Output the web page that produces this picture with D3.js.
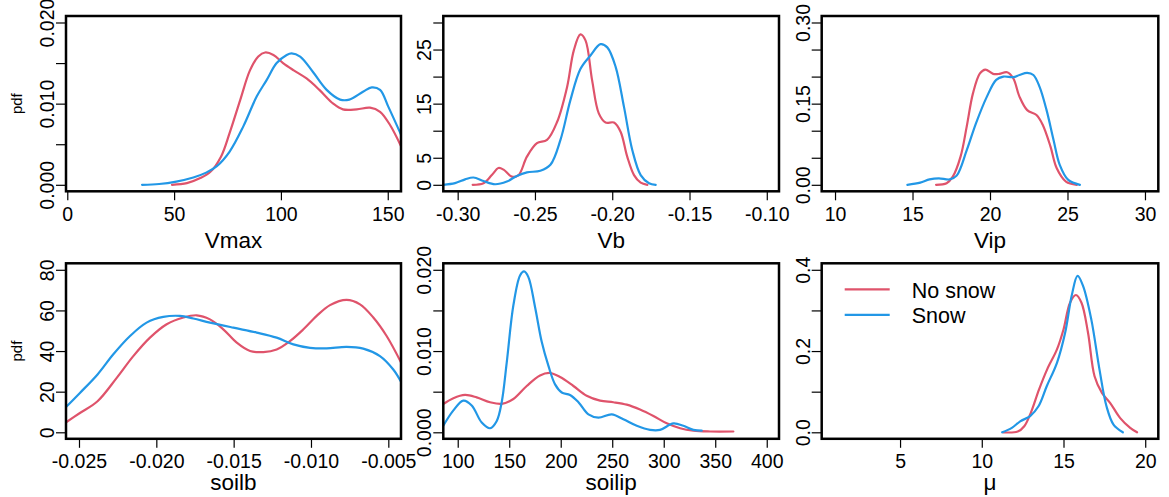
<!DOCTYPE html>
<html>
<head>
<meta charset="utf-8">
<script src="https://cdn.jsdelivr.net/npm/d3@7"></script>
<style>
  html, body { margin: 0; padding: 0; background: #fff; }
  svg { display: block; font-family: Arial, "Liberation Sans", Helvetica, sans-serif; }
</style>
</head>
<body>
<svg id="chart" width="1169" height="497"></svg>
<script>
// ---------- Data (x, density) ----------
const seriesNames = ["No snow", "Snow"];
const seriesColors = ["#DF536B", "#2297E6"];

const vmaxNoSnow = [[49,0],[56,0.0002],[62,0.0008],[67,0.0016],[72,0.0035],[76,0.0064],[81,0.0105],[85.5,0.0141],[89.4,0.0158],[92.6,0.0163],[96.5,0.0160],[101,0.0150],[106,0.0141],[112,0.0131],[118,0.0117],[124.5,0.0100],[129,0.0093],[135.5,0.0093],[141.7,0.0095],[146.4,0.0090],[151,0.0074],[156.5,0.0046]];
const vmaxSnow = [[35,0],[43,0.0001],[51,0.0004],[59,0.0009],[65,0.0015],[70,0.0023],[76,0.0041],[82.4,0.0072],[88.7,0.0109],[93.3,0.0129],[98,0.0150],[102.7,0.0160],[105,0.0162],[109,0.0158],[115,0.0139],[121.4,0.0117],[127.7,0.0105],[132,0.0105],[138.6,0.0115],[142.5,0.0120],[146.4,0.0117],[150.3,0.0096],[156.5,0.0060]];

const vbNoSnow = [[-0.2903,0],[-0.2833,0.3],[-0.2779,1.8],[-0.2736,3.1],[-0.2703,2.8],[-0.2649,1.5],[-0.2606,1.8],[-0.2552,5.2],[-0.2487,7.7],[-0.2422,8.3],[-0.2357,11.6],[-0.2292,18.1],[-0.2249,24.8],[-0.2206,27.8],[-0.2173,26.7],[-0.2130,19.3],[-0.2087,13.2],[-0.2043,11.5],[-0.1989,11.5],[-0.1946,9.8],[-0.1903,5.2],[-0.1859,1.8],[-0.1816,0.4],[-0.1773,0]];
const vbSnow = [[-0.3093,0],[-0.3017,0.3],[-0.2952,1.0],[-0.2898,1.35],[-0.2833,0.7],[-0.2758,0.1],[-0.2682,0.6],[-0.2617,1.65],[-0.2552,2.3],[-0.2465,2.6],[-0.2400,3.7],[-0.2335,8.3],[-0.2271,15.6],[-0.2206,21.4],[-0.2141,23.9],[-0.2076,26.0],[-0.2032,25.4],[-0.1978,21.8],[-0.1924,14.4],[-0.1870,6.4],[-0.1816,1.8],[-0.1762,0.3],[-0.1719,0]];

const vipNoSnow = [[16.52,0],[17.2,0.003],[17.6,0.015],[18.1,0.052],[18.5,0.108],[18.9,0.169],[19.35,0.206],[19.7,0.213],[20.2,0.205],[20.6,0.205],[21.1,0.208],[21.5,0.197],[21.9,0.163],[22.4,0.138],[23.0,0.129],[23.4,0.111],[23.9,0.071],[24.3,0.031],[24.9,0.006],[25.6,0]];
const vipSnow = [[14.67,0],[15.5,0.004],[16.1,0.010],[16.7,0.012],[17.4,0.010],[17.85,0.017],[18.5,0.064],[19.1,0.114],[19.8,0.163],[20.4,0.194],[20.86,0.200],[21.5,0.199],[21.9,0.203],[22.4,0.207],[22.8,0.203],[23.2,0.181],[23.65,0.138],[24.1,0.083],[24.5,0.037],[25.05,0.009],[25.8,0]];

const soilbNoSnow = [[-0.0259,4.6],[-0.02494,9.5],[-0.0238,15.3],[-0.02256,26.8],[-0.02149,37.5],[-0.02041,46.6],[-0.01933,53.2],[-0.01825,56.5],[-0.01739,57.6],[-0.01653,55.6],[-0.01567,50.7],[-0.0148,44.1],[-0.01394,40.0],[-0.01308,39.5],[-0.01222,40.8],[-0.01136,44.9],[-0.01049,50.7],[-0.00963,57.3],[-0.00877,62.6],[-0.0077,65.2],[-0.00683,63.0],[-0.00597,56.5],[-0.00511,47.4],[-0.00415,34.0]];
const soilbSnow = [[-0.0259,12.0],[-0.02494,19.4],[-0.0238,28.5],[-0.02278,38.4],[-0.0217,47.4],[-0.02063,54.0],[-0.01955,56.8],[-0.01847,57.3],[-0.01761,56.0],[-0.01653,54.0],[-0.01502,51.5],[-0.01351,49.1],[-0.01222,46.6],[-0.01114,43.3],[-0.01006,41.6],[-0.00899,41.3],[-0.0077,42.1],[-0.00662,41.2],[-0.00554,37.5],[-0.00468,30.9],[-0.00415,24.5]];

const soilipNoSnow = [[85,0.0034],[95.8,0.0042],[107.1,0.0046],[118.4,0.0043],[131.4,0.0037],[142.7,0.0035],[154.0,0.0041],[167,0.0057],[179.9,0.0070],[189.6,0.0073],[199.4,0.0068],[212.3,0.0057],[225.2,0.0045],[238.2,0.0039],[251.1,0.0037],[264.1,0.0034],[277,0.0028],[290,0.0020],[302.9,0.0011],[315.9,0.0005],[328.8,0.0002],[345,0.0001],[367.6,0.0001]];
const soilipSnow = [[85,0.0006],[95.8,0.0027],[105.5,0.0039],[113.6,0.0033],[123.3,0.0012],[131.4,0.0005],[137.9,0.0014],[142.7,0.0037],[147.6,0.0086],[154,0.0156],[160.5,0.0193],[164.4,0.0198],[168.6,0.0191],[175.1,0.0154],[181.6,0.0111],[188,0.0082],[194.5,0.0059],[201,0.0049],[209,0.0046],[217.2,0.0037],[226.9,0.0022],[236.6,0.0018],[249.5,0.0022],[260.8,0.0016],[273.8,0.0008],[286.7,0.0003],[296.4,0.0003],[309.4,0.0011],[319.1,0.0008],[328.8,0.0003],[336.9,0.0002]];

const muNoSnow = [[11.3,0],[12.2,0.002],[12.6,0.015],[13.0,0.048],[13.5,0.105],[14.0,0.155],[14.6,0.204],[15.0,0.253],[15.4,0.319],[15.76,0.338],[16.1,0.319],[16.5,0.245],[16.9,0.138],[17.35,0.097],[17.86,0.072],[18.47,0.035],[19.08,0.011],[19.5,0]];
const muSnow = [[11.25,0],[11.84,0.011],[12.35,0.027],[12.96,0.040],[13.47,0.064],[13.98,0.114],[14.6,0.171],[15.1,0.245],[15.5,0.336],[15.86,0.385],[16.2,0.360],[16.7,0.278],[17.2,0.155],[17.63,0.064],[18.06,0.019],[18.63,0]];

// ---------- Axis ticks and labels ----------
const xTicksVmax = [0, 50, 100, 150];
const xLabelsVmax = ["0", "50", "100", "150"];
const yTicksVmax = [0, 0.005, 0.010, 0.015, 0.020];
const yLabelsVmax = ["0.000", "", "0.010", "", "0.020"];

const xTicksVb = [-0.30, -0.25, -0.20, -0.15, -0.10];
const xLabelsVb = ["-0.30", "-0.25", "-0.20", "-0.15", "-0.10"];
const yTicksVb = [0, 5, 10, 15, 20, 25, 30];
const yLabelsVb = ["0", "5", "", "15", "", "25", ""];

const xTicksVip = [10, 15, 20, 25, 30];
const xLabelsVip = ["10", "15", "20", "25", "30"];
const yTicksVip = [0, 0.05, 0.10, 0.15, 0.20, 0.25, 0.30];
const yLabelsVip = ["0.00", "", "", "0.15", "", "", "0.30"];

const xTicksSoilb = [-0.025, -0.020, -0.015, -0.010, -0.005];
const xLabelsSoilb = ["-0.025", "-0.020", "-0.015", "-0.010", "-0.005"];
const yTicksSoilb = [0, 20, 40, 60, 80];
const yLabelsSoilb = ["0", "20", "40", "60", "80"];

const xTicksSoilip = [100, 150, 200, 250, 300, 350, 400];
const xLabelsSoilip = ["100", "150", "200", "250", "300", "350", "400"];
const yTicksSoilip = [0, 0.005, 0.010, 0.015, 0.020];
const yLabelsSoilip = ["0.000", "", "0.010", "", "0.020"];

const xTicksMu = [5, 10, 15, 20];
const xLabelsMu = ["5", "10", "15", "20"];
const yTicksMu = [0, 0.1, 0.2, 0.3, 0.4];
const yLabelsMu = ["0.0", "", "0.2", "", "0.4"];

const xTitles = ["Vmax", "Vb", "Vip", "soilb", "soilip", "\u03BC"];
const yTitle = "pdf";

// ---------- Layout ----------
const cols = [[66, 401], [443.3, 779], [821.7, 1158.3]];
const rows = [[16, 191.3], [263.3, 438.8]];
const titleOffset = [57, 51.5];

const panels = [
  { row: 0, col: 0, xd: [-0.6, 156.2], yd: [-0.0008, 0.0208], series: [vmaxNoSnow, vmaxSnow], xt: xTicksVmax, xl: xLabelsVmax, yt: yTicksVmax, yl: yLabelsVmax, title: xTitles[0], pdf: true },
  { row: 0, col: 1, xd: [-0.3093, -0.0921], yd: [-1.2, 31.2], series: [vbNoSnow, vbSnow], xt: xTicksVb, xl: xLabelsVb, yt: yTicksVb, yl: yLabelsVb, title: xTitles[1] },
  { row: 0, col: 2, xd: [9.14, 30.86], yd: [-0.012, 0.312], series: [vipNoSnow, vipSnow], xt: xTicksVip, xl: xLabelsVip, yt: yTicksVip, yl: yLabelsVip, title: xTitles[2] },
  { row: 1, col: 0, xd: [-0.02584, -0.00418], yd: [-3.2, 83.2], series: [soilbNoSnow, soilbSnow], xt: xTicksSoilb, xl: xLabelsSoilb, yt: yTicksSoilb, yl: yLabelsSoilb, title: xTitles[3], pdf: true },
  { row: 1, col: 1, xd: [86.0, 411.9], yd: [-0.0008, 0.0208], series: [soilipNoSnow, soilipSnow], xt: xTicksSoilip, xl: xLabelsSoilip, yt: yTicksSoilip, yl: yLabelsSoilip, title: xTitles[4] },
  { row: 1, col: 2, xd: [0.206, 20.8], yd: [-0.016, 0.416], series: [muNoSnow, muSnow], xt: xTicksMu, xl: xLabelsMu, yt: yTicksMu, yl: yLabelsMu, title: xTitles[5], legend: true }
];

const svg = d3.select("#chart");
const defs = svg.append("defs");
const tickFont = "19.5px";

panels.forEach((p, i) => {
  const [x0, x1] = cols[p.col];
  const [y0, y1] = rows[p.row];
  const x = d3.scaleLinear().domain(p.xd).range([x0, x1]);
  const y = d3.scaleLinear().domain(p.yd).range([y1, y0]);

  defs.append("clipPath").attr("id", "clip" + i)
    .append("rect").attr("x", x0).attr("y", y0).attr("width", x1 - x0).attr("height", y1 - y0);

  const g = svg.append("g");

  // curves
  const line = d3.line().x(d => x(d[0])).y(d => y(d[1])).curve(d3.curveCatmullRom.alpha(0.5));
  const cg = g.append("g").attr("clip-path", `url(#clip${i})`);
  p.series.forEach((s, k) => {
    cg.append("path").datum(s).attr("d", line)
      .attr("fill", "none").attr("stroke", seriesColors[k])
      .attr("stroke-width", 2.2).attr("stroke-linejoin", "round").attr("stroke-linecap", "round");
  });

  // x axis
  const xa = g.append("g").attr("transform", `translate(0,${y1})`)
    .call(d3.axisBottom(x).tickValues(p.xt).tickSize(9).tickSizeOuter(0)
      .tickFormat((d, j) => p.xl[j]));
  xa.select(".domain").remove();
  xa.selectAll(".tick line").attr("stroke", "#000").attr("stroke-width", 1.2);
  xa.selectAll(".tick text").attr("y", 29.5).attr("dy", 0)
    .attr("fill", "#000").style("font-size", tickFont).style("font-family", "Arial, 'Liberation Sans', sans-serif");

  // y axis
  const ya = g.append("g").attr("transform", `translate(${x0},0)`)
    .call(d3.axisLeft(y).tickValues(p.yt).tickSize(10).tickSizeOuter(0)
      .tickFormat((d, j) => p.yl[j]));
  ya.select(".domain").remove();
  ya.selectAll(".tick line").attr("stroke", "#000").attr("stroke-width", 1.2);
  ya.selectAll(".tick text").attr("x", 0).attr("y", 0).attr("dy", 0)
    .attr("transform", "translate(-12,0) rotate(-90)")
    .attr("text-anchor", "middle")
    .attr("fill", "#000").style("font-size", tickFont).style("font-family", "Arial, 'Liberation Sans', sans-serif");

  // box
  g.append("rect").attr("x", x0).attr("y", y0).attr("width", x1 - x0).attr("height", y1 - y0)
    .attr("fill", "none").attr("stroke", "#000").attr("stroke-width", 2.5);

  // x title
  g.append("text").attr("x", (x0 + x1) / 2).attr("y", y1 + titleOffset[p.row])
    .attr("text-anchor", "middle").style("font-size", "22.5px").attr("fill", "#000")
    .text(p.title);

  // y title
  if (p.pdf) {
    g.append("text").attr("transform", `translate(22,${(y0 + y1) / 2}) rotate(-90)`)
      .attr("text-anchor", "middle").style("font-size", "15px").attr("fill", "#000")
      .text(yTitle);
  }

  // legend
  if (p.legend) {
    const lx0 = x0 + 23, lx1 = x0 + 68, tx = x0 + 90;
    const ly = [y0 + 26, y0 + 51.5];
    seriesNames.forEach((n, k) => {
      g.append("line").attr("x1", lx0).attr("x2", lx1).attr("y1", ly[k]).attr("y2", ly[k])
        .attr("stroke", seriesColors[k]).attr("stroke-width", 2.2);
      g.append("text").attr("x", tx).attr("y", ly[k] + 8.5)
        .style("font-size", "21.5px").attr("fill", "#000").text(n);
    });
  }
});
</script>
</body>
</html>
